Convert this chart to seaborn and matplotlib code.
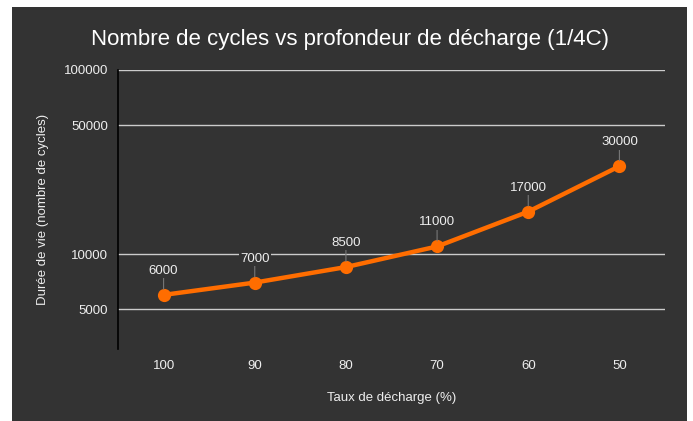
import matplotlib
matplotlib.use("Agg")
import matplotlib.pyplot as plt
import seaborn as sns
import pandas as pd
from matplotlib.patches import Rectangle
from matplotlib.ticker import FixedLocator, FixedFormatter, NullLocator

categories = ["100", "90", "80", "70", "60", "50"]
cycles = [6000, 7000, 8500, 11000, 17000, 30000]
ytick_values = [5000, 10000, 50000, 100000]
ytick_labels = ["5000", "10000", "50000", "100000"]

BG = "#333333"
ORANGE = "#FF6D00"
TXT = "#EEEEEE"

sns.set_theme(style="dark")
plt.rcParams["font.family"] = ["Liberation Sans", "DejaVu Sans"]

fig = plt.figure(figsize=(6.93, 4.21), dpi=100, facecolor="white")
fig.patches.append(Rectangle((12 / 693, 0), (687 - 12) / 693, (421 - 7) / 421,
                             transform=fig.transFigure, facecolor=BG,
                             edgecolor="none", zorder=-10))
ax = fig.add_axes([118 / 693, 1 - 349 / 421, (665 - 118) / 693, (349 - 70) / 421])
ax.set_facecolor(BG)

df = pd.DataFrame({"x": categories, "y": cycles})
sns.lineplot(data=df, x="x", y="y", ax=ax, color=ORANGE, linewidth=3.2,
             marker="o", markersize=9.5, markeredgewidth=0, sort=False, zorder=3)

ax.set_yscale("log")
ax.set_ylim(3050, 100000)
ax.set_xlim(-0.5, len(categories) - 0.5)
ax.yaxis.set_major_locator(FixedLocator(ytick_values))
ax.yaxis.set_major_formatter(FixedFormatter(ytick_labels))
ax.yaxis.set_minor_locator(NullLocator())
ax.grid(False)
for v in ytick_values:
    ax.axhline(v, color="#CCCCCC", linewidth=1, zorder=1)

for s in ["top", "right", "bottom"]:
    ax.spines[s].set_visible(False)
ax.spines["left"].set_color("black")
ax.spines["left"].set_linewidth(1.2)
ax.tick_params(axis="both", length=0, colors=TXT, labelsize=9.5)
ax.tick_params(axis="y", pad=7)
ax.tick_params(axis="x", pad=8)

for i, v in enumerate(cycles):
    ax.annotate(str(v), xy=(i, v), xytext=(0, 13), textcoords="offset points",
                ha="center", va="bottom", color=TXT, fontsize=9.5, zorder=4,
                bbox=dict(boxstyle="square,pad=0.1", facecolor=BG, edgecolor="none"),
                arrowprops=dict(arrowstyle="-", color="#777777", lw=0.8,
                                shrinkA=0, shrinkB=4))

ax.set_xlabel("Taux de décharge (%)", color=TXT, fontsize=9.5, labelpad=14)
ax.set_ylabel("Durée de vie (nombre de cycles)", color=TXT, fontsize=9.5, labelpad=11)
fig.text(350 / 693, 1 - 40 / 421, "Nombre de cycles vs profondeur de décharge (1/4C)",
         ha="center", va="center", color="white", fontsize=16)

fig.savefig("out.png", dpi=100, facecolor=fig.get_facecolor())
